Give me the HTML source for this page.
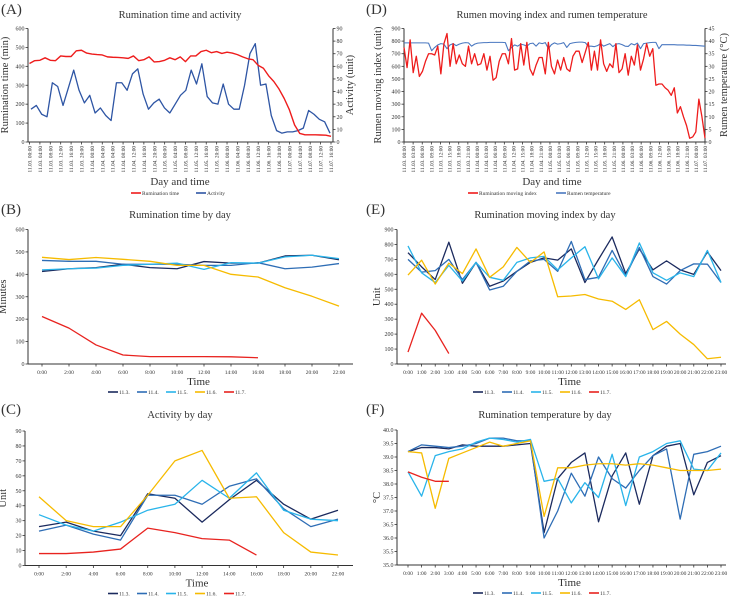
<!DOCTYPE html>
<html><head><meta charset="utf-8">
<style>
html,body{margin:0;padding:0;background:#fff;}
svg{display:block;font-family:"Liberation Serif",serif;}
text{fill:#333;}
</style></head>
<body>
<svg id="c" width="730" height="598" viewBox="0 0 730 598"></svg>
<script>
// ---------- DATA ----------
const aXLabels = ["11.03. 00:00","11.03. 04:00","11.03. 08:00","11.03. 12:00","11.03. 16:00","11.03. 20:00","11.04. 00:00","11.04. 04:00","11.04. 04:00","11.04. 08:00","11.04. 12:00","11.04. 16:00","11.04. 20:00","11.05. 00:00","11.05. 04:00","11.05. 08:00","11.05. 12:00","11.05. 16:00","11.05. 20:00","11.06. 00:00","11.06. 04:00","11.06. 08:00","11.06. 12:00","11.06. 16:00","11.06. 20:00","11.07. 00:00","11.07. 04:00","11.07. 08:00","11.07. 12:00","11.07. 16:00"];
const aRumination = [415,430,432,445,432,430,455,452,452,482,485,470,465,462,460,450,448,447,445,442,455,430,435,450,423,425,432,445,435,450,425,455,455,478,485,472,478,468,475,470,462,450,440,435,405,390,350,320,280,230,170,90,45,38,38,38,37,36,30];
const aActivity = [26,29,22,20,47,44,29,43,57,41,31,37,23,27,21,17,47,47,41,54,58,38,26,31,34,27,23,30,37,41,57,46,62,36,31,30,46,30,26,26,45,70,78,45,46,21,9,7,8,8,9,11,25,22,18,16,7];
const aLeftTicks = [0,100,200,300,400,500,600];
const aRightTicks = [0,10,20,30,40,50,60,70,80,90];

const dXLabels = ["11.03. 00:00","11.03. 03:00","11.03. 06:00","11.03. 09:00","11.03. 12:00","11.03. 15:00","11.03. 18:00","11.03. 21:00","11.04. 00:00","11.04. 03:00","11.04. 06:00","11.04. 09:00","11.04. 12:00","11.04. 15:00","11.04. 18:00","11.04. 21:00","11.05. 00:00","11.05. 03:00","11.05. 06:00","11.05. 09:00","11.05. 12:00","11.05. 15:00","11.05. 18:00","11.05. 21:00","11.06. 00:00","11.06. 03:00","11.06. 06:00","11.06. 09:00","11.06. 12:00","11.06. 15:00","11.06. 18:00","11.06. 21:00","11.07. 00:00","11.07. 03:00"];
const dMovingIndex = [750,590,810,550,680,520,560,640,700,700,690,760,540,780,860,600,780,620,690,620,600,760,620,700,610,620,700,570,680,490,510,640,700,700,620,820,570,580,780,610,790,580,530,610,670,670,540,790,600,540,650,570,670,580,560,680,720,720,630,710,790,570,720,570,810,620,560,620,590,780,550,580,700,530,680,610,770,570,660,780,680,740,450,460,460,430,410,370,430,230,280,200,130,30,40,80,340,200,30];
const dTemperature = [39.3,39.3,39.3,39.3,39.3,39.3,39.3,39.3,39.2,36.2,37.5,38.5,39.0,38.8,37.0,38.5,39.0,38.2,38.8,39.2,39.4,39.3,38.0,38.8,39.2,39.3,39.4,39.4,39.5,39.5,39.5,39.5,39.5,39.4,36.2,37.5,38.5,38.0,38.8,38.5,38.0,39.0,39.2,38.0,39.3,39.0,39.4,37.0,38.6,39.3,38.8,39.0,39.4,37.5,39.0,39.3,39.5,39.6,39.6,39.4,38.0,38.0,37.8,38.2,39.0,38.0,38.5,39.0,37.8,38.8,39.0,38.6,38.0,37.9,39.0,38.5,39.2,37.0,39.0,39.2,39.4,39.5,39.5,37.0,38.6,38.6,38.6,38.6,38.6,38.5,38.5,38.5,38.4,38.4,38.3,38.3,38.2,38.1,38.0];
const dLeftTicks = [0,100,200,300,400,500,600,700,800,900];
const dRightTicks = [0,5,10,15,20,25,30,35,40,45];

const dayNames = ["11.3.","11.4.","11.5.","11.6.","11.7."];
const bHours = ["0:00","2:00","4:00","6:00","8:00","10:00","12:00","14:00","16:00","18:00","20:00","22:00"];
const b113 = [413,425,430,445,430,425,457,450,450,482,485,465];
const b114 = [462,458,458,445,445,445,440,440,452,425,432,448];
const b115 = [420,425,428,440,445,450,422,452,450,478,485,470];
const b116 = [476,466,475,467,458,440,440,400,388,340,302,258];
const b117 = [212,160,85,40,33,33,33,32,28];
const bTicks = [0,100,200,300,400,500,600];

const c113 = [26,29,23,20,48,45,29,44,57,41,31,37];
const c114 = [23,27,21,17,47,47,41,53,58,38,26,31];
const c115 = [34,27,23,29,37,41,57,45,62,37,31,30];
const c116 = [46,30,26,26,47,70,77,45,46,22,9,7];
const c117 = [8,8,9,11,25,22,18,17,7];
const cTicks = [0,10,20,30,40,50,60,70,80,90];

const eHours = ["0:00","1:00","2:00","3:00","4:00","5:00","6:00","7:00","8:00","9:00","10:00","11:00","12:00","13:00","14:00","15:00","16:00","17:00","18:00","19:00","20:00","21:00","22:00","23:00"];
const e113 = [745,650,565,815,540,680,520,555,620,680,710,695,770,545,700,850,605,770,630,690,630,600,750,625];
const e114 = [700,615,625,700,565,680,495,520,620,690,700,620,820,565,580,760,590,780,585,535,625,670,668,545];
const e115 = [790,610,545,660,555,680,580,560,680,710,720,630,710,785,570,710,585,810,610,560,610,585,760,545];
const e116 = [595,695,535,675,605,770,580,650,780,680,750,450,455,465,435,420,365,430,230,285,200,130,35,45];
const e117 = [80,340,225,70];
const eTicks = [0,100,200,300,400,500,600,700,800,900];

const f113 = [39.2,39.35,39.35,39.3,39.45,39.4,39.4,39.4,39.45,39.5,36.2,38.2,38.8,39.15,36.6,38.3,39.15,37.25,39.05,39.4,39.5,37.6,38.8,39.05];
const f114 = [39.2,39.45,39.4,39.35,39.4,39.5,39.7,39.7,39.6,39.6,36.0,37.0,38.4,37.55,39.0,38.2,37.85,38.5,39.05,39.3,36.7,39.1,39.2,39.4];
const f115 = [38.45,37.55,39.05,39.2,39.3,39.55,39.7,39.65,39.55,39.65,38.1,38.2,37.3,38.05,37.5,39.1,37.2,39.0,39.2,39.5,39.6,38.55,38.5,39.15];
const f116 = [39.2,39.15,37.1,38.95,39.15,39.35,39.55,39.4,39.5,39.6,36.8,38.6,38.6,38.7,38.75,38.75,38.7,38.75,38.7,38.6,38.5,38.5,38.5,38.55];
const f117 = [38.45,38.25,38.1,38.1];
const fTicks = [35.0,35.5,36.0,36.5,37.0,37.5,38.0,38.5,39.0,39.5,40.0];

const dayColors = ["#1b2a5e","#2e6db5","#29b4ea","#f6bb00","#e8231f"];

// ---------- HELPERS ----------
const NS = "http://www.w3.org/2000/svg";
const svg = document.getElementById("c");
function mk(tag, attrs, parent) {
  const e = document.createElementNS(NS, tag);
  for (const k in attrs) e.setAttribute(k, attrs[k]);
  (parent || svg).appendChild(e);
  return e;
}
function txt(s, x, y, size, anchor, parent, extra) {
  const t = mk("text", Object.assign({x: x, y: y, "font-size": size, "text-anchor": anchor || "start"}, extra || {}), parent);
  t.textContent = s;
  return t;
}
function lin(d0, d1, r0, r1) { return v => r0 + (v - d0) / (d1 - d0) * (r1 - r0); }
function drawLine(g, vals, xf, yf, color, width) {
  let d = "";
  vals.forEach((v, i) => { d += (i ? "L" : "M") + xf(i).toFixed(2) + "," + yf(v).toFixed(2); });
  return mk("path", {d: d, fill: "none", stroke: color, "stroke-width": width || 1.3, "stroke-linejoin": "round"}, g);
}
function yAxis(g, x, yf, ticks, side, fmt, top, bottom) {
  const ax = mk("line", {x1: x, y1: top, x2: x, y2: bottom, stroke: "#333", "stroke-width": 1}, g);
  
  
  ticks.forEach(t => {
    const y = yf(t);
    mk("line", {x1: side === "left" ? x - 2.5 : x, y1: y, x2: side === "left" ? x : x + 2.5, y2: y, stroke: "#333", "stroke-width": 0.8}, g);
    const lb = txt(fmt ? fmt(t) : String(t), side === "left" ? x - 3.5 : x + 3.5, y + 2, 6, side === "left" ? "end" : "start", g);
    
    
  });
}
function catAxis(g, labels, xf, y, x0, x1, rotated, size) {
  const ax = mk("line", {x1: x0, y1: y, x2: x1, y2: y, stroke: "#333", "stroke-width": 1}, g);
  
  
  labels.forEach((l, i) => {
    const x = xf(i);
    mk("line", {x1: x, y1: y, x2: x, y2: y + 2.5, stroke: "#333", "stroke-width": 0.8}, g);
    let lb;
    if (rotated) lb = txt(l, x + 2, y + 4, 5.3, "end", g, {transform: "rotate(-90 " + (x + 2) + " " + (y + 4) + ")"});
    else lb = txt(l, x, y + 10, size || 5.5, "middle", g);
    
    
  });
}
function panelHead(g, letter, lx, ly, title, tx, ty) {
  const a = txt(letter, lx, ly, 15, "start", g);
  
  
  const t = txt(title, tx, ty, 10.5, "middle", g);
  
  
}
function yTitle(g, s, x, y, size) {
  const t = txt(s, x, y, size || 10.5, "middle", g, {transform: "rotate(-90 " + x + " " + y + ")"});
  
  
}
function xTitle(g, s, x, y) {
  const t = txt(s, x, y, 11, "middle", g);
  
  
}
function legend(g, items, colors, x, y, gap) {
  let cx = x;
  items.forEach((s, i) => {
    const lg = mk("g", {}, g);
    
    
    mk("line", {x1: cx, y1: y - 2, x2: cx + 10, y2: y - 2, stroke: colors[i], "stroke-width": 1.6}, lg);
    txt(s, cx + 11, y, 5.5, "start", lg);
    cx += gap[i];
  });
}
function dayPanel(name, letter, originX, originY, title, labels, series, yMin, yMax, ticks, fmt, left, right, top, bottom, x0, x1, ytitle, ytx) {
  const g = mk("g", {});
  
  
  panelHead(g, letter, originX + 1, originY + 14, title, originX + 180, originY + 18);
  const yf = lin(yMin, yMax, bottom, top);
  const xf = lin(0, labels.length - 1, x0, x1);
  yAxis(g, left, yf, ticks, "left", fmt, top, bottom);
  catAxis(g, labels, xf, bottom, left, right, false);
  series.forEach((s, i) => {
    const p = drawLine(g, s, xf, yf, dayColors[i], 1.3);
    
    
  });
  yTitle(g, ytitle, ytx, (top + bottom) / 2, 10.5);
  xTitle(g, "Time", (left + right) / 2 + 8, bottom + 21);
  legend(g, dayNames, dayColors, originX + 108, bottom + 30, [29, 29, 29, 29, 29]);
}

// ---------- PANEL A ----------
(function () {
  const g = mk("g", {});
  
  
  panelHead(g, "(A)", 1, 14, "Rumination time and activity", 180, 18);
  const top = 28.5, bottom = 142, left = 28, right = 333;
  const yl = lin(0, 600, bottom, top), yr = lin(0, 90, bottom, top);
  yAxis(g, left, yl, aLeftTicks, "left", null, top, bottom);
  yAxis(g, right, yr, aRightTicks, "right", null, top, bottom);
  const xl = lin(0, aXLabels.length - 1, 29.5, 331);
  catAxis(g, aXLabels, xl, bottom, left, right, true);
  const xr = lin(0, aRumination.length - 1, 29.5, 331);
  const xa = lin(0, aActivity.length - 1, 31, 330);
  const pa = drawLine(g, aActivity, xa, yr, "#2e55a4", 1.3);
  
  
  const pr = drawLine(g, aRumination, xr, yl, "#ee1c1c", 1.4);
  
  
  yTitle(g, "Rumination time (min)", 8, 85, 10.5);
  yTitle(g, "Activity (unit)", 353, 85, 10.5);
  xTitle(g, "Day and time", 180, 185);
  legend(g, ["Rumination time", "Activity"], ["#ee1c1c", "#2e55a4"], 131, 195, [65, 0]);
})();

// ---------- PANEL D ----------
(function () {
  const ox = 365;
  const g = mk("g", {});
  
  
  panelHead(g, "(D)", ox + 1, 14, "Rumen moving index and rumen temperature", ox + 187, 18);
  const top = 28.5, bottom = 142, left = 404, right = 705;
  const yl = lin(0, 900, bottom, top), yr = lin(0, 45, bottom, top);
  yAxis(g, left, yl, dLeftTicks, "left", null, top, bottom);
  yAxis(g, right, yr, dRightTicks, "right", null, top, bottom);
  const xl = lin(0, dXLabels.length - 1, 404, 705);
  catAxis(g, dXLabels, xl, bottom, left, right, true);
  const xm = lin(0, dMovingIndex.length - 1, 404, 705);
  const xt = lin(0, dTemperature.length - 1, 404, 705);
  const pt = drawLine(g, dTemperature, xt, yr, "#4a78c0", 1.1);
  
  
  const pm = drawLine(g, dMovingIndex, xm, yl, "#ee1c1c", 1.3);
  
  
  yTitle(g, "Rumen moving index (unit)", 381, 85, 10.5);
  yTitle(g, "Rumen temperature (°C)", 727, 85, 10.5);
  xTitle(g, "Day and time", ox + 187, 185);
  legend(g, ["Rumination moving index", "Rumen temperature"], ["#ee1c1c", "#4a78c0"], ox + 103, 195, [88, 0]);
})();

// ---------- PANELS B, C, E, F ----------
dayPanel("panel-b-rumination-by-day", "(B)", 0, 200, "Rumination time by day", bHours,
  [b113, b114, b115, b116, b117], 0, 600, bTicks, null, 28, 353, 229.5, 364, 42, 339, "Minutes", 6);
dayPanel("panel-c-activity-by-day", "(C)", 0, 400, "Activity by day", bHours,
  [c113, c114, c115, c116, c117], 0, 90, cTicks, null, 25, 353, 431, 565.5, 39, 338, "Unit", 6);
dayPanel("panel-e-moving-index-by-day", "(E)", 365, 200, "Rumination moving index by day", eHours,
  [e113, e114, e115, e116, e117], 0, 900, eTicks, null, 397, 726, 229.5, 364, 408, 721, "Unit", 380);
dayPanel("panel-f-temperature-by-day", "(F)", 365, 400, "Rumination temperature by day", eHours,
  [f113, f114, f115, f116, f117], 35, 40, fTicks, v => v.toFixed(1), 397, 726, 430, 565, 408, 721, "°C", 380);
</script>
</body></html>
